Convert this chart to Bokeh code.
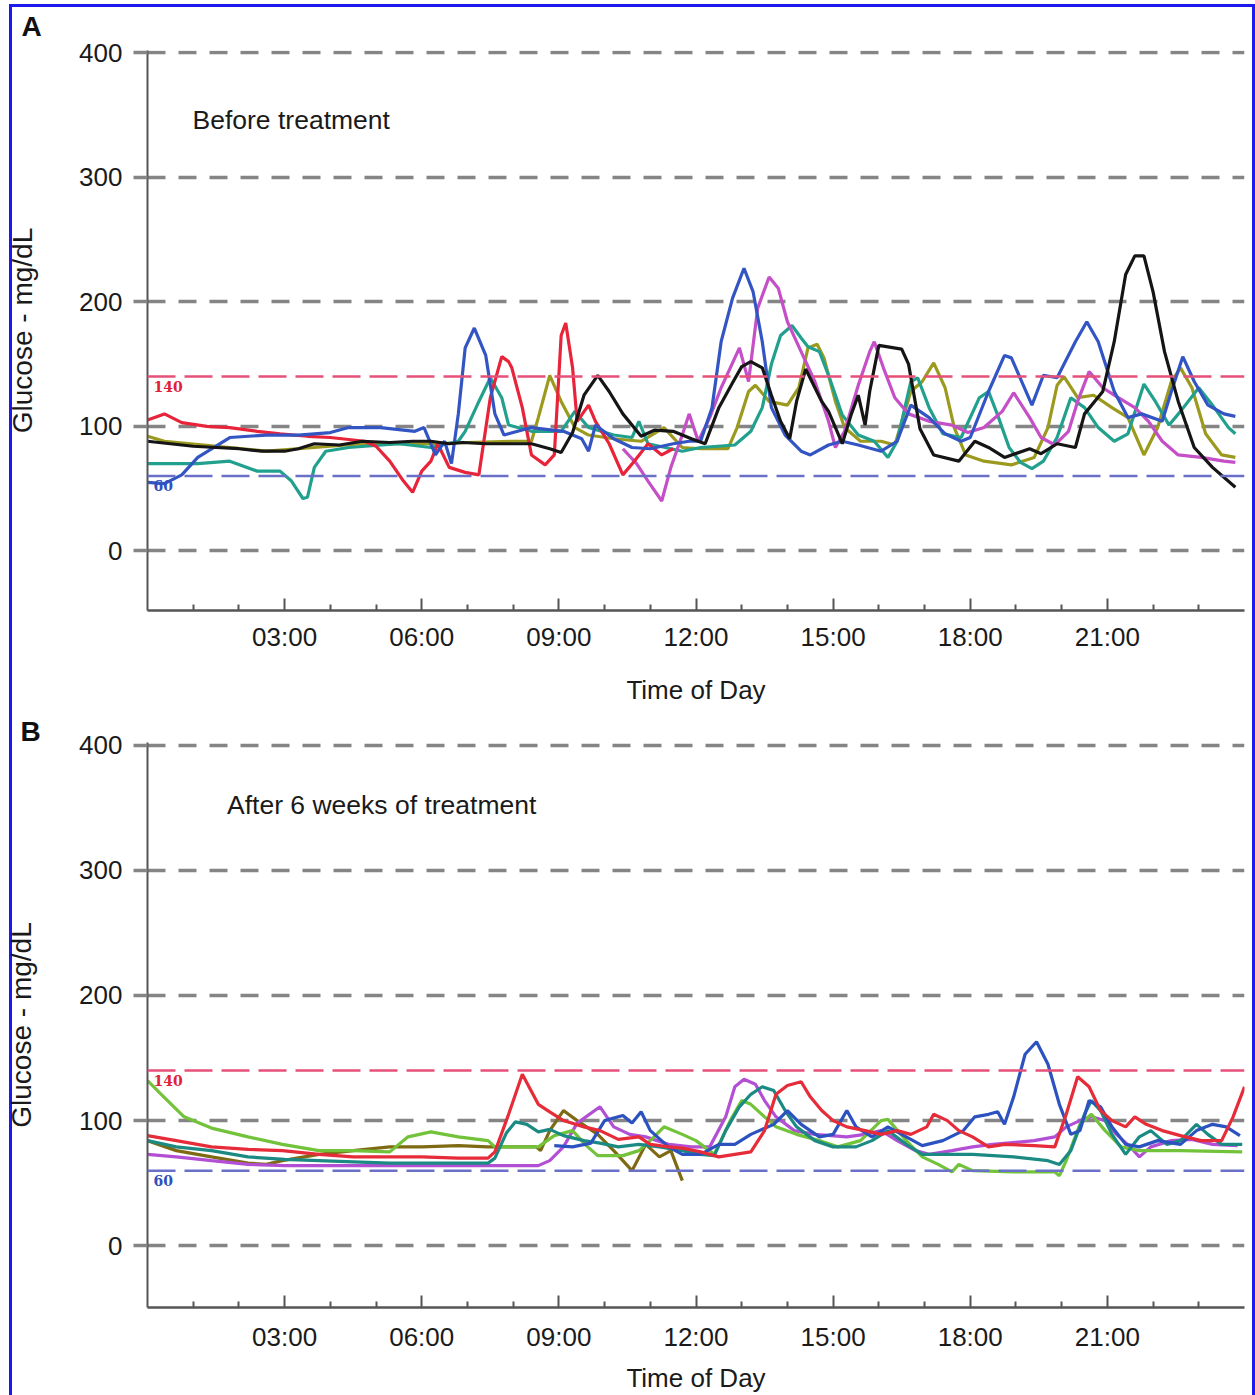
from bokeh.plotting import figure
from bokeh.layouts import column
from bokeh.models import FixedTicker, Span, Label
from bokeh.embed import file_html
from bokeh.resources import INLINE

# ---------------- data: panel A (before treatment) ----------------
a_black_t = [0, 0.5, 1.0, 1.5, 2.0, 2.5, 3.0, 3.3, 3.65, 4.2, 4.7, 5.3, 5.8, 6.2, 6.6, 6.9, 7.4, 7.9, 8.4, 8.8, 9.05,
             9.3, 9.55, 9.85, 10.1, 10.4, 10.8, 11.1, 11.5, 11.9, 12.2, 12.5, 12.8, 13.0, 13.2, 13.45, 13.65, 13.85,
             14.05, 14.2, 14.4, 14.75, 14.9, 15.2, 15.4, 15.55, 15.7, 15.8, 16.0, 16.5, 16.65, 16.9, 17.2, 17.75,
             18.1, 18.4, 18.75, 19.3, 19.55, 19.9, 20.3, 20.5, 20.9, 21.15, 21.4, 21.6, 21.8, 22.0, 22.25, 22.55,
             22.9, 23.3, 23.8]
a_black_g = [88, 86, 84, 83, 82, 80, 80, 82, 86, 85, 88, 87, 88, 88, 86, 87, 86, 86, 86, 82, 79,
             95, 125, 141, 128, 110, 92, 97, 96, 90, 86, 115, 135, 148, 152, 147, 125, 104,
             90, 120, 146, 120, 112, 86, 110, 125, 101, 128, 165, 162, 150, 98, 77, 72,
             88, 83, 75, 82, 78, 86, 83, 110, 128, 168, 222, 237, 237, 208, 160, 120,
             83, 67, 51]

a_red_t = [0, 0.37, 0.75, 1.3, 1.8, 2.4, 2.9, 3.5, 4.0, 4.75, 5.0, 5.3, 5.6, 5.8, 6.0, 6.2, 6.35, 6.6, 6.95, 7.25,
           7.5, 7.75, 7.9, 7.97, 8.2, 8.4, 8.7, 8.9, 9.05, 9.15, 9.3, 9.4, 9.65, 9.8, 10.1, 10.4, 10.65, 10.95,
           11.25, 11.5]
a_red_g = [105, 110, 103, 100, 99, 96, 94, 92, 91, 88, 84, 72, 56, 47, 64, 72, 86, 67, 63, 61,
           123, 156, 152, 147, 115, 77, 69, 77, 173, 183, 147, 104, 117, 104, 86, 61, 72, 86,
           77, 82]

a_blue_t = [0, 0.37, 0.75, 1.1, 1.8, 2.6, 3.3, 4.0, 4.4, 5.1, 5.85, 6.05, 6.3, 6.5, 6.65, 6.8, 6.95, 7.15, 7.4,
            7.6, 7.8, 8.4, 9.1, 9.5, 9.65, 9.8, 10.2, 10.6, 11.0, 11.5, 11.85, 12.1, 12.35, 12.55, 12.8, 13.05,
            13.25, 13.45, 13.65, 13.95, 14.3, 14.5, 14.9, 15.2, 15.55, 16.05, 16.4, 16.7, 17.1, 17.45, 17.8,
            18.0, 18.4, 18.75, 18.9, 19.35, 19.6, 19.9, 20.3, 20.55, 20.8, 21.15, 21.45, 21.75, 22.2, 22.4,
            22.65, 22.9, 23.2, 23.55, 23.8]
a_blue_g = [55, 54, 61, 75, 91, 93, 93, 95, 99, 99, 96, 99, 77, 88, 70, 110, 163, 179, 157,
            110, 93, 99, 96, 90, 80, 101, 90, 83, 82, 86, 88, 88, 115, 168, 203, 227,
            208, 168, 115, 93, 80, 77, 85, 88, 85, 80, 88, 117, 107, 94, 88,
            91, 128, 157, 155, 117, 141, 139, 168, 184, 168, 128, 107, 110, 104, 128,
            156, 136, 117, 110, 108]

a_teal_t = [0, 1.1, 1.8, 2.4, 2.9, 3.15, 3.4, 3.5, 3.65, 3.9, 4.4, 5.5, 6.2, 6.8, 6.95, 7.25, 7.5, 7.75, 7.9, 8.4,
            9.05, 9.35, 9.65, 10.2, 10.6, 10.75, 10.95, 11.7, 12.1, 12.85, 13.2, 13.45, 13.65, 13.85, 14.1, 14.3,
            14.45, 14.7, 14.9, 15.2, 15.55, 15.9, 16.2, 16.4, 16.7, 16.85, 17.1, 17.4, 17.8, 18.2, 18.4, 18.6,
            18.85, 19.1, 19.35, 19.6, 19.9, 20.2, 20.5, 20.8, 21.15, 21.45, 21.8, 22.05, 22.35, 22.6, 23.0, 23.3,
            23.65, 23.8]
a_teal_g = [70, 70, 72, 64, 64, 56, 42, 43, 67, 80, 83, 86, 83, 88, 96, 120, 139, 123, 101, 96,
            96, 112, 99, 93, 91, 104, 86, 80, 83, 85, 96, 115, 150, 173, 181, 171,
            164, 160, 141, 109, 93, 88, 75, 88, 136, 139, 115, 94, 91, 123, 128, 109,
            83, 71, 66, 72, 91, 123, 115, 99, 88, 94, 134, 120, 101, 112, 131, 117,
            99, 94]

a_olive_t = [0, 0.37, 1.8, 2.6, 3.65, 4.7, 6.2, 7.0, 8.0, 8.4, 8.55, 8.8, 9.05, 9.35, 9.65, 10.2, 10.8, 11.3, 11.7,
             12.1, 12.7, 12.9, 13.15, 13.3, 13.6, 14.0, 14.25, 14.45, 14.65, 14.8, 15.05, 15.25, 15.6, 16.05,
             16.35, 16.7, 16.95, 17.2, 17.45, 17.65, 17.9, 18.3, 18.9, 19.4, 19.7, 19.9, 20.05, 20.35, 20.7,
             21.1, 21.45, 21.8, 22.1, 22.4, 22.6, 22.85, 23.15, 23.5, 23.8]
a_olive_g = [92, 88, 83, 80, 83, 86, 86, 87, 88, 88, 107, 141, 120, 99, 93, 90, 88, 99, 83,
             82, 82, 99, 128, 133, 120, 117, 131, 163, 166, 155, 120, 99, 88, 88,
             85, 128, 136, 151, 131, 99, 77, 72, 69, 75, 99, 133, 140, 123, 125,
             115, 107, 77, 99, 136, 147, 131, 94, 77, 75]

a_magenta_t = [10.4, 10.7, 10.95, 11.25, 11.45, 11.7, 11.85, 12.05, 12.3, 12.55, 12.75, 12.95, 13.15, 13.35, 13.6,
               13.8, 14.0, 14.3, 14.6, 14.9, 15.05, 15.25, 15.55, 15.8, 15.9, 16.1, 16.35, 16.65, 17.1, 17.6,
               17.95, 18.3, 18.7, 18.95, 19.3, 19.55, 19.85, 20.15, 20.35, 20.6, 20.9, 21.15, 21.6, 21.9, 22.2,
               22.55, 23.05, 23.55, 23.8]
a_magenta_g = [82, 70, 56, 40, 67, 93, 110, 88, 107, 131, 147, 163, 136, 195, 220,
               211, 184, 160, 136, 104, 83, 96, 133, 160, 168, 147, 123, 110, 104, 101,
               95, 99, 112, 127, 107, 91, 85, 96, 120, 144, 131, 125, 115, 104, 88,
               77, 75, 72, 71]

# ---------------- data: panel B (after 6 weeks) ----------------
b_red_t = [0, 0.63, 1.4, 2.2, 2.95, 3.75, 4.5, 5.3, 6.0, 6.8, 7.45, 7.6, 7.9, 8.2, 8.55, 8.8, 9.1, 9.55, 9.9, 10.3,
           10.75, 11.0, 11.4, 11.7, 12.1, 12.5, 12.85, 13.2, 13.5, 13.75, 14.0, 14.3, 14.5, 14.75, 15.0, 15.3,
           15.7, 16.05, 16.4, 16.7, 17.05, 17.2, 17.5, 17.75, 18.05, 18.4, 18.75, 19.4, 19.85, 20.1, 20.35,
           20.6, 20.85, 21.1, 21.4, 21.6, 21.85, 22.2, 22.6, 23.05, 23.5, 23.75, 24.0]
b_red_g = [88, 84, 79, 77, 76, 73, 71, 71, 71, 70, 70, 75, 105, 137, 113, 107, 100, 95, 92, 85,
           87, 81, 79, 78, 75, 71, 73, 75, 92, 121, 128, 131, 119, 108, 100, 95,
           92, 89, 92, 89, 95, 105, 100, 92, 87, 79, 81, 80, 79, 105, 135,
           127, 108, 100, 95, 103, 97, 92, 88, 84, 84, 103, 127]

b_teal_t = [0, 0.63, 1.4, 2.2, 3.0, 3.75, 4.5, 5.3, 6.8, 7.45, 7.6, 7.85, 8.05, 8.3, 8.55, 8.8, 9.1, 9.55, 9.9,
            10.3, 10.75, 11.2, 11.7, 12.1, 12.4, 12.65, 12.95, 13.2, 13.45, 13.7, 13.95, 14.2, 14.6, 15.0, 15.5,
            15.85, 16.2, 16.6, 16.95, 17.4, 18.05, 18.95, 19.7, 19.95, 20.2, 20.5, 20.65, 20.85, 21.1, 21.4,
            21.7, 21.95, 22.3, 22.6, 22.95, 23.2, 23.5, 23.95]
b_teal_g = [84, 79, 76, 71, 69, 68, 67, 66, 66, 66, 70, 90, 99, 97, 91, 93, 88, 84, 82,
            79, 81, 79, 76, 73, 72, 92, 111, 121, 127, 124, 108, 95, 84, 79, 79,
            84, 92, 81, 73, 73, 73, 71, 68, 65, 76, 105, 116, 108, 89, 73,
            87, 92, 81, 84, 97, 89, 81, 81]

b_green_t = [0, 0.3, 0.8, 1.4, 2.2, 2.95, 3.75, 4.5, 5.3, 5.7, 6.2, 6.8, 7.45, 7.6, 8.0, 8.55, 8.9, 9.3, 9.6, 9.85,
             10.4, 10.75, 11.0, 11.3, 11.7, 12.0, 12.4, 12.75, 13.0, 13.2, 13.5, 13.75, 14.2, 14.7, 15.1, 15.6,
             16.05, 16.2, 16.6, 16.95, 17.3, 17.6, 17.75, 18.05, 18.95, 19.85, 19.95, 20.1, 20.4, 20.65, 20.95,
             21.3, 21.7, 22.6, 23.95]
b_green_g = [132, 121, 103, 94, 87, 81, 76, 76, 75, 87, 91, 87, 84, 79, 79, 79, 88, 92, 80, 72,
             72, 76, 84, 95, 89, 84, 73, 100, 116, 113, 103, 95, 89, 84, 79, 84,
             100, 101, 84, 71, 65, 59, 65, 60, 59, 59, 56, 68, 97, 105, 92,
             79, 76, 76, 75]

b_magenta_t = [0, 0.63, 1.4, 2.2, 3.0, 4.5, 6.0, 7.45, 8.0, 8.55, 8.8, 9.1, 9.4, 9.9, 10.2, 10.55, 10.9, 11.4, 11.9,
               12.3, 12.65, 12.85, 13.05, 13.3, 13.5, 13.75, 14.15, 14.6, 15.3, 15.7, 16.05, 16.4, 16.8, 17.1,
               17.6, 18.05, 18.5, 19.4, 19.85, 20.1, 20.4, 20.65, 20.95, 21.2, 21.5, 21.7, 21.95, 22.4, 22.85,
               23.3, 23.85]
b_magenta_g = [73, 71, 68, 65, 64, 64, 64, 64, 64, 64, 68, 79, 98, 111, 95, 89, 87, 81, 79,
               79, 103, 127, 133, 129, 116, 103, 92, 89, 87, 89, 92, 84, 76, 73,
               76, 79, 81, 84, 87, 95, 100, 103, 100, 89, 79, 71, 79, 84, 85,
               81, 80]

b_olive_t = [0, 0.63, 1.4, 2.2, 2.6, 2.95, 3.75, 4.5, 5.3, 6.0, 6.8, 7.45, 8.5, 8.6, 8.8, 9.1, 9.4, 9.85, 10.2,
             10.6, 10.9, 11.2, 11.45, 11.7]
b_olive_g = [84, 76, 71, 66, 65, 68, 73, 76, 79, 79, 80, 79, 79, 76, 92, 108, 100, 89, 76,
             60, 81, 71, 76, 52]

b_blue_t = [8.9, 9.3, 9.7, 10.0, 10.4, 10.6, 10.8, 11.0, 11.4, 11.7, 12.1, 12.5, 12.85, 13.2, 13.7, 14.0, 14.3,
            14.7, 15.0, 15.3, 15.5, 15.85, 16.2, 16.6, 16.95, 17.4, 17.85, 18.1, 18.4, 18.6, 18.75, 18.95, 19.2,
            19.45, 19.7, 19.95, 20.2, 20.4, 20.6, 20.85, 21.1, 21.4, 21.7, 22.1, 22.6, 22.95, 23.3, 23.6, 23.9]
b_blue_g = [80, 79, 82, 100, 104, 98, 107, 92, 79, 73, 73, 81, 81, 89, 97, 108, 97,
            87, 89, 108, 95, 87, 95, 87, 80, 84, 92, 103, 105, 107, 97, 119, 153,
            163, 145, 113, 89, 92, 116, 111, 95, 81, 79, 84, 81, 92, 97, 95, 88]

y_ticks = [0, 100, 200, 300, 400]
x_major = [3, 6, 9, 12, 15, 18, 21]
x_minor = [1, 2, 4, 5, 7, 8, 10, 11, 13, 14, 16, 17, 19, 20, 22, 23]
x_labels = ["03:00", "06:00", "09:00", "12:00", "15:00", "18:00", "21:00"]
high_limit = 140
low_limit = 60

FONT = "Liberation Sans"
TXT = "#1a1a1a"
FRAME_BLUE = "#1a1aee"


def make_panel(height, y_lo, border_top, border_bottom, border_left, border_right,
               series, letter, letter_offset, letter_standoff, note, note_xy,
               xlab_standoff, xtitle_standoff, ytitle_standoff):
    p = figure(width=1255, height=height, x_range=(0, 24), y_range=(y_lo, 402),
               output_backend="svg", toolbar_location=None,
               min_border_top=border_top, min_border_bottom=border_bottom,
               min_border_left=border_left, min_border_right=border_right)
    p.outline_line_color = None
    p.background_fill_color = "white"
    p.border_fill_color = None

    # panel letter as the title
    p.title.text = letter
    p.title.align = "left"
    p.title.offset = letter_offset
    p.title.standoff = letter_standoff
    p.title.text_font = FONT
    p.title.text_font_style = "bold"
    p.title.text_font_size = "28px"
    p.title.text_color = "#111111"

    # grid
    p.xgrid.visible = False
    p.ygrid.ticker = FixedTicker(ticks=y_ticks)
    p.ygrid.grid_line_color = "#858585"
    p.ygrid.grid_line_width = 3.5
    p.ygrid.grid_line_dash = "18 13"

    # y axis
    p.yaxis.ticker = FixedTicker(ticks=y_ticks)
    p.yaxis.axis_line_color = "#555555"
    p.yaxis.axis_line_width = 2
    p.yaxis.major_tick_out = 14
    p.yaxis.major_tick_in = 0
    p.yaxis.major_tick_line_color = "#858585"
    p.yaxis.major_tick_line_width = 3.5
    p.yaxis.minor_tick_line_color = None
    p.yaxis.major_label_text_font = FONT
    p.yaxis.major_label_text_font_size = "26px"
    p.yaxis.major_label_text_color = TXT
    p.yaxis.major_label_standoff = 11
    p.yaxis.axis_label = "Glucose - mg/dL"
    p.yaxis.axis_label_text_font = FONT
    p.yaxis.axis_label_text_font_size = "28px"
    p.yaxis.axis_label_text_font_style = "normal"
    p.yaxis.axis_label_text_color = TXT
    p.yaxis.axis_label_standoff = ytitle_standoff

    # x axis
    p.xaxis.ticker = FixedTicker(ticks=x_major, minor_ticks=x_minor)
    p.xaxis.major_label_overrides = {t: l for t, l in zip(x_major, x_labels)}
    p.xaxis.axis_line_color = "#555555"
    p.xaxis.axis_line_width = 2.5
    p.xaxis.major_tick_in = 12
    p.xaxis.major_tick_out = 0
    p.xaxis.minor_tick_in = 6
    p.xaxis.minor_tick_out = 0
    p.xaxis.major_tick_line_color = "#555555"
    p.xaxis.minor_tick_line_color = "#555555"
    p.xaxis.major_tick_line_width = 2
    p.xaxis.minor_tick_line_width = 2
    p.xaxis.major_label_text_font = FONT
    p.xaxis.major_label_text_font_size = "26px"
    p.xaxis.major_label_text_color = TXT
    p.xaxis.major_label_standoff = xlab_standoff
    p.xaxis.axis_label = "Time of Day"
    p.xaxis.axis_label_text_font = FONT
    p.xaxis.axis_label_text_font_size = "26px"
    p.xaxis.axis_label_text_font_style = "normal"
    p.xaxis.axis_label_text_color = TXT
    p.xaxis.axis_label_standoff = xtitle_standoff

    # limit lines
    p.add_layout(Span(location=high_limit, dimension="width", line_color="#e6507a",
                      line_width=2.5, line_dash="28 9"))
    p.add_layout(Span(location=low_limit, dimension="width", line_color="#6a70c8",
                      line_width=2.5, line_dash="28 9"))

    for t, g, c in series:
        p.line(t, g, line_color=c, line_width=3.2)

    p.add_layout(Label(x=0.13, y=high_limit - 3.5, text=str(high_limit), text_font="DejaVu Serif",
                       text_font_style="bold", text_font_size="14px", text_color="#e02238",
                       text_baseline="top", text_align="left"))
    p.add_layout(Label(x=0.13, y=low_limit - 3.5, text=str(low_limit), text_font="DejaVu Serif",
                       text_font_style="bold", text_font_size="14px", text_color="#3050c0",
                       text_baseline="top", text_align="left"))

    p.add_layout(Label(x=note_xy[0], y=note_xy[1], text=note, text_font=FONT,
                       text_font_size="26.5px", text_color=TXT,
                       text_baseline="middle", text_align="left"))
    return p


series_a = [
    (a_olive_t, a_olive_g, "#9c9a1e"),
    (a_teal_t, a_teal_g, "#22a08e"),
    (a_magenta_t, a_magenta_g, "#c44fc6"),
    (a_red_t, a_red_g, "#e8243a"),
    (a_blue_t, a_blue_g, "#3355c4"),
    (a_black_t, a_black_g, "#151515"),
]
series_b = [
    (b_olive_t, b_olive_g, "#7d6a12"),
    (b_magenta_t, b_magenta_g, "#b24fd4"),
    (b_green_t, b_green_g, "#72c23a"),
    (b_teal_t, b_teal_g, "#1b8a82"),
    (b_blue_t, b_blue_g, "#2c52c0"),
    (b_red_t, b_red_g, "#e62b39"),
]

pA = make_panel(708, -48, 49, 98, 146, 11, series_a, "A", -126, 17,
                "Before treatment", (0.985, 346), 11, 20, 38)
pB = make_panel(687, -49.3, 34, 88, 147, 3, series_b, "B", -127, -9,
                "After 6 weeks of treatment", (1.74, 352), 14, 8, 39)

# the blue frame round the whole figure, drawn as the layout's background
solid = "linear-gradient({0}, {0})".format(FRAME_BLUE)
layout = column(pA, pB, spacing=0,
                styles={"background-image": ", ".join([solid, solid, solid]),
                        "background-size": "3px 100%, 1246px 3px, 3px 100%",
                        "background-position": "9px 4px, 9px 4px, 1252px 4px",
                        "background-repeat": "no-repeat"})

open("out.html", "w").write(file_html(layout, INLINE))
